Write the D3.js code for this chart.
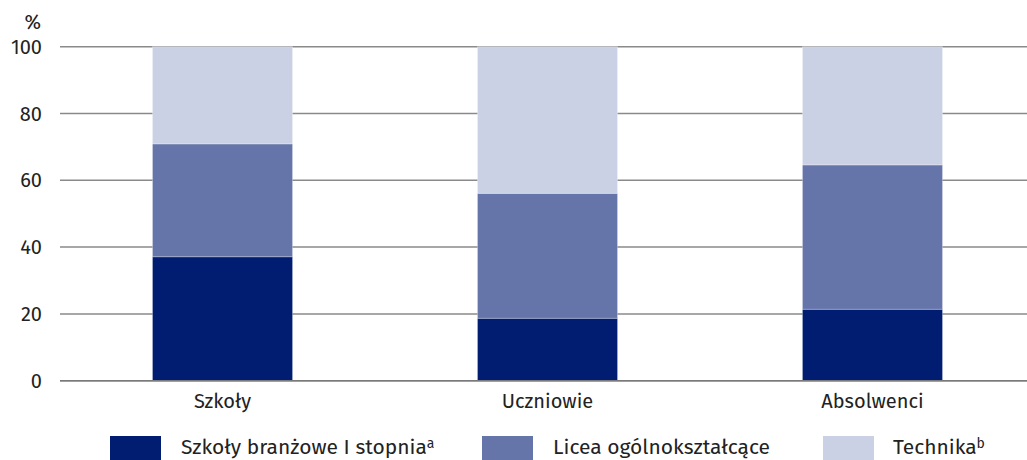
<!DOCTYPE html>
<html><head><meta charset="utf-8">
<script src="https://cdn.jsdelivr.net/npm/d3@7"></script>
<style>body{margin:0;background:#fff;} svg{display:block;font-family:"Fira Sans","Noto Sans",sans-serif;}</style>
</head><body>
<svg id="c" width="1027" height="460"></svg>
<script>
const categories = ["Szkoły", "Uczniowie", "Absolwenci"];
const branzowe = [37.1, 18.7, 21.4];
const licea = [33.8, 37.4, 43.2];
const technika = [29.1, 43.9, 35.4];
const seriesNames = ["Szkoły branżowe I stopnia", "Licea ogólnokształcące", "Technika"];
const seriesSup = ["a", "", "b"];
const yTicks = [0, 20, 40, 60, 80, 100];
const colors = ["#001d72", "#6575aa", "#cbd1e5"];

const svg = d3.select("#c");
const x = d3.scaleBand().domain(categories).range([60, 1035]).paddingInner(0.569).paddingOuter(0.2846);
const y = d3.scaleLinear().domain([0, 100]).range([380.7, 46.7]);
const fs = 20;

// gridlines
svg.append("g").selectAll("line").data(yTicks).join("line")
  .attr("x1", 60).attr("x2", 1027)
  .attr("y1", d => y(d)).attr("y2", d => y(d))
  .attr("stroke", "#8a8a8a").attr("stroke-width", 1.5);

// y labels
svg.append("g").selectAll("text").data(yTicks).join("text")
  .attr("x", 42).attr("y", d => y(d)).attr("dy", "0.35em")
  .attr("text-anchor", "end").attr("font-size", fs).attr("fill", "#222")
  .text(d => d);
svg.append("text").attr("x", 41).attr("y", 29).attr("text-anchor", "end")
  .attr("font-size", fs).attr("fill", "#222").text("%");

const data = categories.map((c, i) => ({cat: c, s0: branzowe[i], s1: licea[i], s2: technika[i]}));
const stack = d3.stack().keys(["s0", "s1", "s2"])(data);
svg.append("g").selectAll("g").data(stack).join("g")
  .attr("fill", (d, i) => colors[i])
  .selectAll("rect").data(d => d).join("rect")
  .attr("x", d => x(d.data.cat)).attr("width", x.bandwidth())
  .attr("y", d => y(d[1])).attr("height", d => y(d[0]) - y(d[1]))
  .attr("stroke", "rgba(255,255,255,0.35)").attr("stroke-width", 0.8);

// zero line on top
svg.append("line").attr("x1", 60).attr("x2", 1027).attr("y1", y(0)).attr("y2", y(0))
  .attr("stroke", "#7a7a7a").attr("stroke-width", 1.5);

// category labels
svg.append("g").selectAll("text").data(categories).join("text")
  .attr("x", d => x(d) + x.bandwidth() / 2).attr("y", 408)
  .attr("text-anchor", "middle").attr("font-size", fs).attr("fill", "#222")
  .text(d => d);

// legend
const legX = [110, 482, 823];
const lg = svg.append("g").selectAll("g").data(seriesNames).join("g")
  .attr("transform", (d, i) => `translate(${legX[i]},436)`);
lg.append("rect").attr("width", 51).attr("height", 30).attr("fill", (d, i) => colors[i]);
const lt = lg.append("text").attr("x", (d, i) => i === 2 ? 70 : 71).attr("y", 18)
  .attr("font-size", 21).attr("fill", "#222");
lt.append("tspan").text(d => d);
lt.append("tspan").attr("font-size", 14).attr("dy", -6).text((d, i) => seriesSup[i]);
</script>
</body></html>
